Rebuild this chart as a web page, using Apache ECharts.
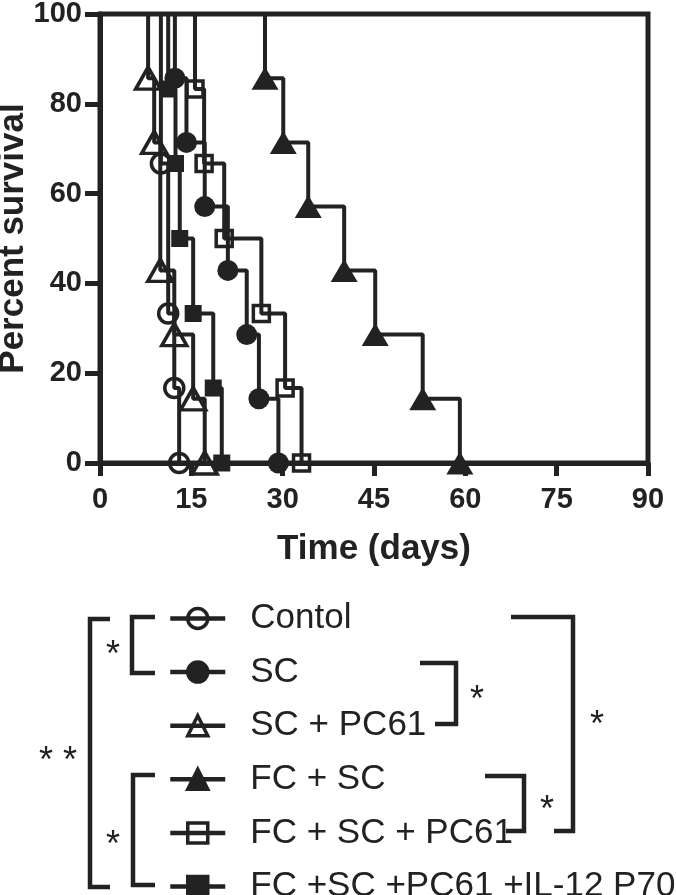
<!DOCTYPE html>
<html>
<head>
<meta charset="utf-8">
<script src="https://cdn.jsdelivr.net/npm/echarts@6/dist/echarts.min.js"></script>
<style>
html,body{margin:0;padding:0;background:#fff;}
#chart{width:676px;height:895px;}
</style>
</head>
<body>
<div id="chart"></div>
<script>
// ---- data ----
const seriesNames = ['Contol', 'SC', 'SC + PC61', 'FC + SC', 'FC + SC + PC61', 'FC +SC +PC61 +IL-12 P70'];

const controlDays = [0, 10.0, 11.2, 12.2, 13.0];
const controlSurv = [100, 66.7, 33.3, 16.7, 0];

const scDays = [0, 12.3, 14.2, 17.2, 21.0, 24.1, 26.1, 29.3];
const scSurv = [100, 85.7, 71.4, 57.1, 42.9, 28.6, 14.3, 0];

const scPcDays = [0, 7.9, 8.9, 9.9, 12.2, 15.3, 17.2];
const scPcSurv = [100, 85.7, 71.4, 42.9, 28.6, 14.3, 0];

const fcScDays = [0, 27.1, 30.1, 34.2, 40.1, 45.2, 53.0, 59.1];
const fcScSurv = [100, 85.7, 71.4, 57.1, 42.9, 28.6, 14.3, 0];

const fcScPcDays = [0, 15.6, 17.1, 20.4, 26.5, 30.4, 33.1];
const fcScPcSurv = [100, 83.3, 66.7, 50, 33.3, 16.7, 0];

const ilDays = [0, 11.2, 12.4, 13.1, 15.3, 18.6, 20.0];
const ilSurv = [100, 83.3, 66.7, 50, 33.3, 16.7, 0];

const xTicks = [0, 15, 30, 45, 60, 75, 90];
const yTicks = [0, 20, 40, 60, 80, 100];

// ---- build ----
const INK = '#222';
function pts(days, surv) {
  return days.map((d, i) => i === 0 ? { value: [d, surv[i]], symbol: 'none' } : [d, surv[i]]);
}
function makeSeries(name, days, surv, symbol, size, open) {
  return {
    name: name,
    type: 'line',
    step: 'end',
    data: pts(days, surv),
    symbol: symbol,
    symbolSize: size,
    showAllSymbol: true,
    lineStyle: { color: INK, width: 4 },
    itemStyle: open
      ? { color: 'transparent', borderColor: INK, borderWidth: 3.5 }
      : { color: INK, borderColor: INK, borderWidth: 0 },
    emphasis: { disabled: true },
    animation: false
  };
}

const series = [
  makeSeries(seriesNames[0], controlDays, controlSurv, 'circle', 19, true),
  makeSeries(seriesNames[1], scDays, scSurv, 'circle', 21, false),
  makeSeries(seriesNames[2], scPcDays, scPcSurv, 'triangle', [25, 22], true),
  makeSeries(seriesNames[3], fcScDays, fcScSurv, 'triangle', [27, 23], false),
  makeSeries(seriesNames[4], fcScPcDays, fcScPcSurv, 'rect', 16, true),
  makeSeries(seriesNames[5], ilDays, ilSurv, 'rect', 17, false)
];

function bracket(points) {
  return { type: 'polyline', shape: { points: points }, style: { stroke: INK, lineWidth: 4.5, fill: null } };
}
function star(x, y, txt) {
  return { type: 'text', x: x, y: y, style: { text: txt, font: '36px "Liberation Sans", Arial, sans-serif', fill: INK, align: 'center', verticalAlign: 'middle' } };
}

const chart = echarts.init(document.getElementById('chart'), null, { renderer: 'canvas' });
chart.setOption({
  animation: false,
  backgroundColor: '#fff',
  textStyle: { fontFamily: '"Liberation Sans", Arial, sans-serif' },
  grid: { left: 100, right: 28, top: 14, height: 449, containLabel: false, outerBoundsMode: 'none',
          show: true, borderColor: INK, borderWidth: 5, backgroundColor: 'transparent' },
  xAxis: {
    type: 'value', min: xTicks[0], max: xTicks[xTicks.length - 1], interval: 15,
    name: 'Time (days)', nameLocation: 'middle', nameGap: 69, nameMoveOverlap: false,
    nameTextStyle: { fontSize: 35, fontWeight: 'bold', color: INK },
    axisLine: { show: true, lineStyle: { color: INK, width: 5 } },
    axisTick: { show: true, length: 13, lineStyle: { color: INK, width: 5 } },
    axisLabel: { fontSize: 29, fontWeight: 'bold', color: INK, margin: 22 },
    splitLine: { show: false }
  },
  yAxis: {
    type: 'value', min: yTicks[0], max: yTicks[yTicks.length - 1], interval: 20,
    name: 'Percent survival', nameLocation: 'middle', nameGap: 69, nameMoveOverlap: false,
    nameTextStyle: { fontSize: 35, fontWeight: 'bold', color: INK },
    axisLine: { show: true, lineStyle: { color: INK, width: 5 } },
    axisTick: { show: true, length: 15, lineStyle: { color: INK, width: 5 } },
    axisLabel: { fontSize: 29, fontWeight: 'bold', color: INK, margin: 18 },
    splitLine: { show: false }
  },
  legend: {
    orient: 'vertical', left: 168, top: 601, height: 330, padding: 0,
    itemWidth: 55, itemHeight: 25, itemGap: 18.6,
    selectedMode: false,
    data: seriesNames,
    lineStyle: { color: INK, width: 4.5 },
    itemStyle: { borderColor: INK, borderWidth: 3.5 },
    textStyle: { fontSize: 35, color: INK, padding: [0, 0, 0, 20] }
  },
  graphic: [
    // left brackets
    bracket([[110, 619], [90, 619], [90, 887], [110, 887]]),
    bracket([[155, 617], [132, 617], [132, 673], [155, 673]]),
    bracket([[155, 775], [133, 775], [133, 885], [155, 885]]),
    // right brackets
    bracket([[420, 663], [456, 663], [456, 724], [435, 724]]),
    bracket([[485, 776], [524, 776], [524, 831], [506, 831]]),
    bracket([[511, 617], [573, 617], [573, 831], [554, 831]]),
    star(113, 656, '*'),
    star(113, 846, '*'),
    star(58, 762, '* *'),
    star(477, 701, '*'),
    star(547, 811, '*'),
    star(597, 726, '*')
  ],
  series: series
});
</script>
</body>
</html>
